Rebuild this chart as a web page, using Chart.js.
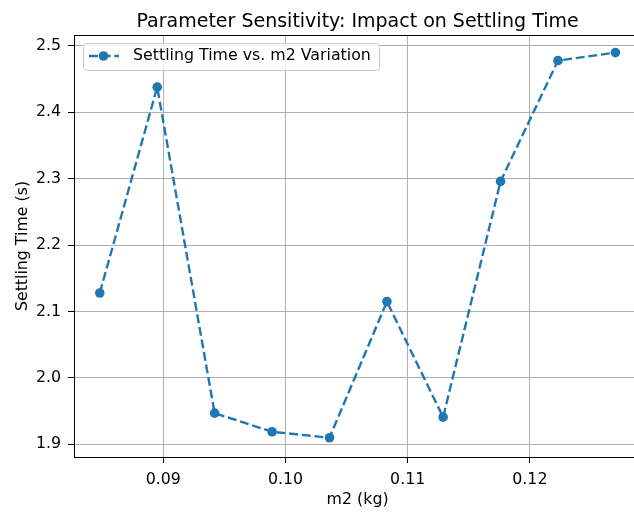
<!DOCTYPE html>
<html>
<head>
<meta charset="utf-8">
<script src="https://cdn.jsdelivr.net/npm/chart.js@4.4.0/dist/chart.umd.min.js"></script>
<style>
  html, body { margin: 0; padding: 0; background: #fff; overflow: hidden; }
  #wrap { width: 634px; height: 512px; overflow: hidden; }
</style>
</head>
<body>
<div id="wrap"><canvas id="chart" width="646" height="512"></canvas></div>
<script>
// Data
const m2Values = [0.0848, 0.0895, 0.0942, 0.0989, 0.1036, 0.1083, 0.1129, 0.1176, 0.1223, 0.1270];
const settlingTimes = [2.128, 2.438, 1.947, 1.919, 1.910, 2.115, 1.941, 2.296, 2.478, 2.490];
const xTicks = [0.09, 0.10, 0.11, 0.12];
const yTicks = [1.9, 2.0, 2.1, 2.2, 2.3, 2.4, 2.5];
const seriesLabel = 'Settling Time vs. m2 Variation';

const BLUE = '#1f77b4';
const FONT = 'DejaVu Sans';
const DASH = [8.9, 3.8];

// Top spine + legend drawn inside upper left (matplotlib style)
const framePlugin = {
    id: 'frame',
    afterDraw(chart) {
        const ctx = chart.ctx;
        const a = chart.chartArea;
        ctx.save();
        ctx.strokeStyle = '#000';
        ctx.lineWidth = 1;
        ctx.strokeRect(Math.round(a.left) + 0.5, Math.round(a.top) + 0.5,
            Math.round(a.right - a.left) - 1, Math.round(a.bottom - a.top));

        // legend box
        const bx = a.left + 9, by = a.top + 8, bw = 296, bh = 27;
        ctx.beginPath();
        ctx.roundRect(bx + 0.5, by + 0.5, bw, bh, 3);
        ctx.fillStyle = 'rgba(255,255,255,0.8)';
        ctx.fill();
        ctx.strokeStyle = '#cccccc';
        ctx.stroke();

        const cy = by + 13;
        ctx.beginPath();
        ctx.setLineDash(DASH);
        ctx.strokeStyle = BLUE;
        ctx.lineWidth = 2.4;
        ctx.moveTo(bx + 6, cy);
        ctx.lineTo(bx + 36, cy);
        ctx.stroke();
        ctx.setLineDash([]);
        ctx.beginPath();
        ctx.arc(bx + 20.5, cy, 4.8, 0, Math.PI * 2);
        ctx.fillStyle = BLUE;
        ctx.fill();

        ctx.fillStyle = '#000';
        ctx.font = '15.8px "' + FONT + '"';
        ctx.textBaseline = 'middle';
        ctx.textAlign = 'left';
        ctx.fillText(seriesLabel, bx + 50, cy);
        ctx.restore();
    }
};

const ctx = document.getElementById('chart').getContext('2d');
new Chart(ctx, {
    type: 'line',
    data: {
        datasets: [{
            label: seriesLabel,
            data: m2Values.map((x, i) => ({ x: x, y: settlingTimes[i] })),
            borderColor: BLUE,
            backgroundColor: BLUE,
            borderWidth: 2.4,
            borderDash: DASH,
            pointRadius: 4.8,
            pointHoverRadius: 4.8,
            pointBorderWidth: 0,
            pointBackgroundColor: BLUE,
            tension: 0,
            fill: false
        }]
    },
    options: {
        responsive: false,
        animation: false,
        devicePixelRatio: 1,
        layout: { padding: { left: 0, right: 3, top: 0, bottom: 0 } },
        plugins: {
            legend: { display: false },
            tooltip: { enabled: false },
            title: {
                display: true,
                fullSize: false,
                text: 'Parameter Sensitivity: Impact on Settling Time',
                color: '#000',
                font: { family: FONT, size: 19, weight: 'normal', lineHeight: 1.2 },
                padding: { top: 11, bottom: 1.2 }
            }
        },
        scales: {
            x: {
                type: 'linear',
                min: 0.08269,
                max: 0.12911,
                afterBuildTicks: s => { s.ticks = xTicks.map(v => ({ value: v })); },
                afterFit: s => { s.height = 55; },
                grid: { color: '#b0b0b0', lineWidth: 1, tickColor: '#000', tickLength: 6, drawTicks: true },
                border: { display: true, color: '#000', width: 1 },
                ticks: {
                    color: '#000',
                    padding: 7,
                    maxRotation: 0,
                    font: { family: FONT, size: 15.8 },
                    callback: v => v.toFixed(2)
                },
                title: {
                    display: true,
                    text: 'm2 (kg)',
                    color: '#000',
                    font: { family: FONT, size: 15.8 },
                    padding: { top: 0, bottom: 3 }
                }
            },
            y: {
                type: 'linear',
                min: 1.881,
                max: 2.5165,
                afterBuildTicks: s => { s.ticks = yTicks.map(v => ({ value: v })); },
                afterFit: s => { s.width = 74; },
                grid: { color: '#b0b0b0', lineWidth: 1, tickColor: '#000', tickLength: 6, drawTicks: true },
                border: { display: true, color: '#000', width: 1 },
                ticks: {
                    color: '#000',
                    padding: 7,
                    font: { family: FONT, size: 15.8 },
                    callback: v => v.toFixed(1)
                },
                title: {
                    display: true,
                    text: 'Settling Time (s)',
                    color: '#000',
                    font: { family: FONT, size: 15.8 },
                    padding: { top: 13, bottom: 0 }
                }
            }
        }
    },
    plugins: [framePlugin]
});
</script>
</body>
</html>
